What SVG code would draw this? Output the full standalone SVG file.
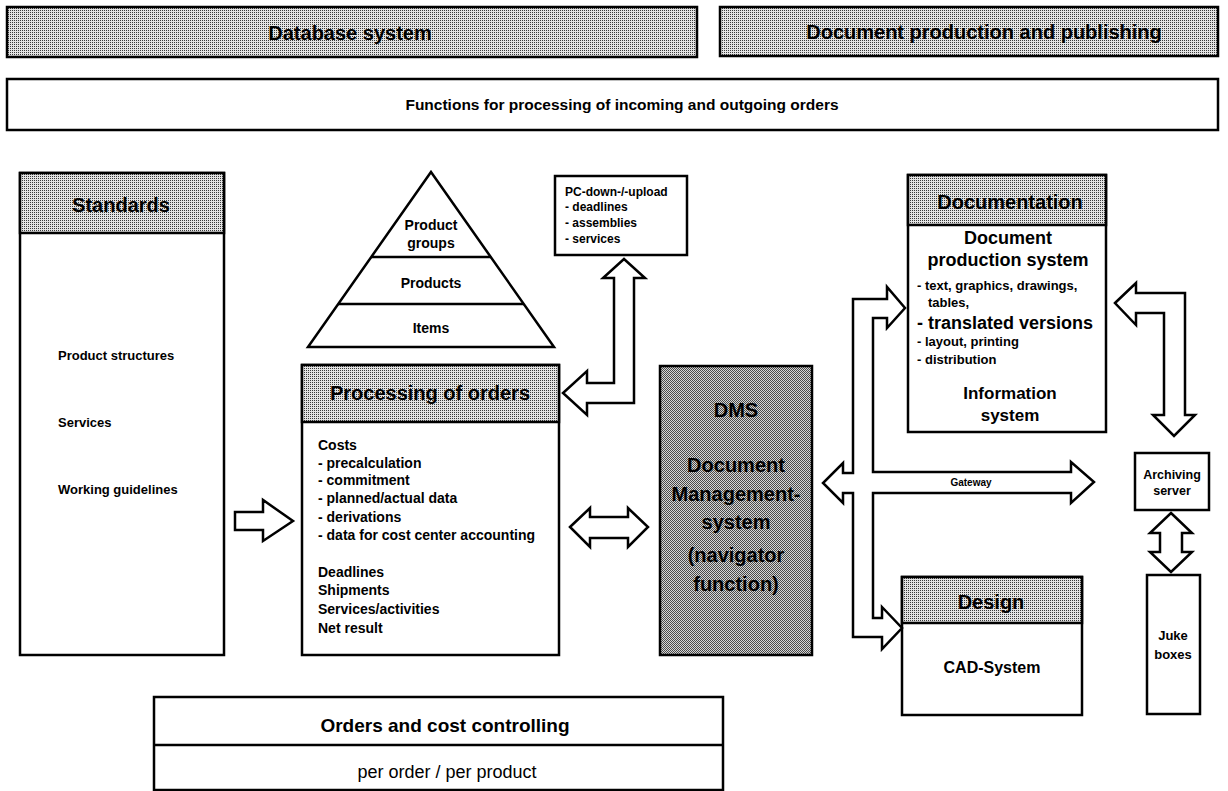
<svg xmlns="http://www.w3.org/2000/svg" width="1228" height="791" viewBox="0 0 1228 791">
<defs>
  <pattern id="halftone" width="2" height="2" patternUnits="userSpaceOnUse">
    <rect width="2" height="2" fill="#e4e4e4"/>
    <rect width="1" height="1" fill="#3a3a3a"/>
  </pattern>
  <pattern id="halftoneDark" width="2" height="2" patternUnits="userSpaceOnUse">
    <rect width="2" height="2" fill="#d6d6d6"/>
    <rect width="1" height="1" fill="#4a4a4a"/>
    <rect x="1" y="1" width="1" height="1" fill="#4a4a4a"/>
  </pattern>
</defs>
<style>
  .box{fill:#fff;stroke:#000;stroke-width:2.5}
  .hdr{fill:url(#halftone);stroke:#000;stroke-width:2.5}
  .dark{fill:url(#halftoneDark);stroke:#000;stroke-width:2.5}
  text{font-family:"Liberation Sans",Arial,Helvetica,sans-serif;font-weight:bold;fill:#000}
  .c{text-anchor:middle}
  .reg{font-weight:normal}
  .arrow{fill:#fff;stroke:#000;stroke-width:2.5;stroke-linejoin:miter}
</style>

<g id="database-system">
  <rect class="hdr" x="7" y="7" width="690" height="50"/>
  <text class="c" x="350" y="40" font-size="20">Database system</text>
</g>
<g id="document-production-publishing">
  <rect class="hdr" x="720" y="7" width="498" height="49"/>
  <text class="c" x="984" y="39" font-size="20">Document production and publishing</text>
</g>
<g id="functions">
  <rect class="box" x="7" y="79" width="1211" height="51"/>
  <text class="c" x="622" y="110" font-size="15.5">Functions for processing of incoming and outgoing orders</text>
</g>

<g id="standards">
  <rect class="box" x="20" y="173" width="204" height="482"/>
  <rect class="hdr" x="20" y="173" width="204" height="60"/>
  <text class="c" x="121" y="212" font-size="20">Standards</text>
  <text x="58" y="360" font-size="13">Product structures</text>
  <text x="58" y="427" font-size="13">Services</text>
  <text x="58" y="494" font-size="13">Working guidelines</text>
</g>

<g id="pyramid">
  <polygon class="box" points="431,172 554,347 308,347"/>
  <line x1="371" y1="257" x2="491" y2="257" stroke="#000" stroke-width="2.5"/>
  <line x1="338" y1="304" x2="524" y2="304" stroke="#000" stroke-width="2.5"/>
  <text class="c" x="431" y="230" font-size="14">Product</text>
  <text class="c" x="431" y="248" font-size="14">groups</text>
  <text class="c" x="431" y="288" font-size="14">Products</text>
  <text class="c" x="431" y="333" font-size="14">Items</text>
</g>

<g id="pc-upload">
  <rect class="box" x="555" y="176" width="132" height="79"/>
  <text x="565" y="196" font-size="12">PC-down-/-upload</text>
  <text x="565" y="211" font-size="12">- deadlines</text>
  <text x="565" y="227" font-size="12">- assemblies</text>
  <text x="565" y="243" font-size="12">- services</text>
</g>

<g id="processing-of-orders">
  <rect class="box" x="302" y="365" width="257" height="290"/>
  <rect class="hdr" x="302" y="365" width="257" height="57"/>
  <text class="c" x="430" y="400" font-size="20">Processing of orders</text>
  <text x="318" y="450" font-size="14">Costs</text>
  <text x="318" y="468" font-size="14">- precalculation</text>
  <text x="318" y="485" font-size="14">- commitment</text>
  <text x="318" y="503" font-size="14">- planned/actual data</text>
  <text x="318" y="522" font-size="14">- derivations</text>
  <text x="318" y="540" font-size="14">- data for cost center accounting</text>
  <text x="318" y="577" font-size="14">Deadlines</text>
  <text x="318" y="595" font-size="14">Shipments</text>
  <text x="318" y="614" font-size="14">Services/activities</text>
  <text x="318" y="633" font-size="14">Net result</text>
</g>

<g id="dms">
  <rect class="dark" x="660" y="366" width="152" height="289"/>
  <text class="c" x="736" y="417" font-size="20">DMS</text>
  <text class="c" x="736" y="472" font-size="20">Document</text>
  <text class="c" x="736" y="501" font-size="20">Management-</text>
  <text class="c" x="736" y="529" font-size="20">system</text>
  <text class="c" x="736" y="562" font-size="20">(navigator</text>
  <text class="c" x="736" y="591" font-size="20">function)</text>
</g>

<g id="documentation">
  <rect class="box" x="908" y="175" width="198" height="257"/>
  <rect class="hdr" x="908" y="175" width="198" height="50"/>
  <text class="c" x="1010" y="209" font-size="20">Documentation</text>
  <text class="c" x="1008" y="244" font-size="18">Document</text>
  <text class="c" x="1008" y="266" font-size="18">production system</text>
  <text x="917" y="290" font-size="13">- text, graphics, drawings,</text>
  <text x="928" y="307" font-size="13">tables,</text>
  <text x="917" y="329" font-size="18">- translated versions</text>
  <text x="917" y="346" font-size="13">- layout, printing</text>
  <text x="917" y="364" font-size="13">- distribution</text>
  <text class="c" x="1010" y="399" font-size="17">Information</text>
  <text class="c" x="1010" y="421" font-size="17">system</text>
</g>

<g id="design">
  <rect class="box" x="902" y="577" width="180" height="138"/>
  <rect class="hdr" x="902" y="577" width="180" height="46"/>
  <text class="c" x="991" y="609" font-size="20">Design</text>
  <text class="c" x="992" y="673" font-size="16">CAD-System</text>
</g>

<g id="archiving-server">
  <rect class="box" x="1135" y="453" width="74" height="57"/>
  <text class="c" x="1172" y="479" font-size="12.5">Archiving</text>
  <text class="c" x="1172" y="495" font-size="12.5">server</text>
</g>

<g id="juke-boxes">
  <rect class="box" x="1147" y="575" width="53" height="139"/>
  <text class="c" x="1173" y="640" font-size="13">Juke</text>
  <text class="c" x="1173" y="659" font-size="13">boxes</text>
</g>

<g id="orders-cost-controlling">
  <rect class="box" x="154" y="697" width="569" height="93"/>
  <line x1="154" y1="745" x2="723" y2="745" stroke="#000" stroke-width="2.5"/>
  <text class="c" x="445" y="732" font-size="19">Orders and cost controlling</text>
  <text class="c reg" x="447" y="778" font-size="18">per order / per product</text>
</g>

<g id="connectors">
  <polygon class="arrow" points="235,512 263,512 263,500 293,521 263,541 263,530 235,530"/>
  <polygon class="arrow" points="624,259 645,278 634,278 634,403 587,403 587,415 563,393 587,371 587,383 614,383 614,278 603,278"/>
  <polygon class="arrow" points="570,527 590,508 590,517 628,517 628,508 648,527 628,547 628,538 590,538 590,547"/>
  <polygon class="arrow" points="853,299 887,299 887,287 905,308 887,328 887,318 873,318 873,472 1071,472 1071,462 1094,482 1071,503 1071,493 873,493 873,618 882,618 882,607 902,628 882,649 882,637 853,637 853,493 843,493 843,503 823,483 843,463 843,473 853,473"/>
  <text class="c" x="971" y="486" font-size="10">Gateway</text>
  <polygon class="arrow" points="1115,303 1136,283 1136,293 1185,293 1185,415 1195,415 1174,436 1153,415 1164,415 1164,313 1136,313 1136,325"/>
  <polygon class="arrow" points="1171,513 1192,533 1182,533 1182,552 1192,552 1171,572 1150,552 1160,552 1160,533 1150,533"/>
</g>
</svg>
